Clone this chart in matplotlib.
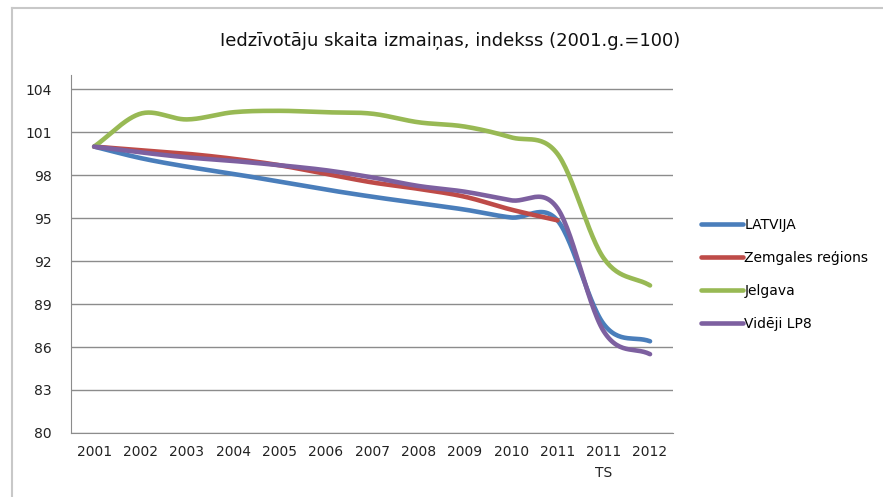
import numpy as np
import matplotlib
matplotlib.use('Agg')
import matplotlib.pyplot as plt
from matplotlib.lines import Line2D

# categories (x axis)
years = ['2001', '2002', '2003', '2004', '2005', '2006', '2007', '2008',
         '2009', '2010', '2011', '2011\nTS', '2012']

# index values, 2001 = 100
latvija = [100, 99.2, 98.6, 98.1, 97.55, 97.0, 96.5, 96.05, 95.6, 95.05, 94.85, 87.6, 86.4]
zemgale = [100, 99.75, 99.5, 99.15, 98.7, 98.1, 97.5, 97.05, 96.5, 95.6, 94.85, np.nan, np.nan]
jelgava = [100, 102.3, 101.9, 102.4, 102.5, 102.4, 102.3, 101.7, 101.4, 100.65, 99.5, 92.2, 90.3]
lp8 = [100, 99.6, 99.25, 99.0, 98.7, 98.35, 97.85, 97.25, 96.85, 96.25, 95.7, 87.1, 85.5]

series = [('LATVIJA', latvija, '#4A7EBB'),
          ('Zemgales reģions', zemgale, '#BE4B48'),
          ('Jelgava', jelgava, '#98B954'),
          ('Vidēji LP8', lp8, '#7D60A0')]


def smooth(x, y, n=30):
    # Catmull-Rom curve through the points (like Excel's smoothed line)
    x = np.asarray(x, float)
    y = np.asarray(y, float)
    ok = ~np.isnan(y)
    x, y = x[ok], y[ok]
    px = np.concatenate([[2 * x[0] - x[1]], x, [2 * x[-1] - x[-2]]])
    py = np.concatenate([[2 * y[0] - y[1]], y, [2 * y[-1] - y[-2]]])
    xs, ys = [], []
    t = np.linspace(0, 1, n)
    for i in range(1, len(px) - 2):
        for p, out in ((px, xs), (py, ys)):
            p0, p1, p2, p3 = p[i - 1], p[i], p[i + 1], p[i + 2]
            c1 = p1 + (p2 - p0) / 6
            c2 = p2 - (p3 - p1) / 6
            out.extend((1 - t) ** 3 * p1 + 3 * (1 - t) ** 2 * t * c1
                       + 3 * (1 - t) * t ** 2 * c2 + t ** 3 * p2)
    return np.array(xs), np.array(ys)


fig = plt.figure(figsize=(8.83, 4.97), dpi=100)
ax = fig.add_axes([0.0804, 0.129, 0.682, 0.72])

x = np.arange(len(years))
for name, vals, col in series:
    sx, sy = smooth(x, vals)
    ax.plot(sx, sy, color=col, lw=3.3, solid_capstyle='round', label=name)

ax.set_xlim(-0.5, len(years) - 0.5)
ax.set_ylim(80, 105)
ax.set_yticks(np.arange(80, 105, 3))
ax.set_xticks(x)
ax.set_xticklabels(years, fontsize=10, color='#222222', linespacing=1.6)
ax.tick_params(axis='y', labelsize=10, colors='#222222', length=0, pad=14)
ax.tick_params(axis='x', length=0, pad=9)
ax.grid(axis='y', color='#8c8c8c', lw=1)
ax.set_axisbelow(True)
for s in ['top', 'right']:
    ax.spines[s].set_visible(False)
for s in ['left', 'bottom']:
    ax.spines[s].set_color('#8c8c8c')

fig.text(0.51, 0.918, 'Iedzīvotāju skaita izmaiņas, indekss (2001.g.=100)',
         ha='center', va='center', fontsize=13, color='#111111')

leg = fig.legend(loc='upper left', bbox_to_anchor=(0.78, 0.586), frameon=False,
                 fontsize=10, handlelength=3.0, handletextpad=0.1,
                 labelspacing=1.35)

# outer chart border (top and left visible)
fig.add_artist(Line2D([12 / 883, 1], [1 - 8 / 497, 1 - 8 / 497],
                      color='#c8c8c8', lw=1.5, transform=fig.transFigure))
fig.add_artist(Line2D([12 / 883, 12 / 883], [0, 1 - 8 / 497],
                      color='#c8c8c8', lw=1.5, transform=fig.transFigure))

fig.savefig('out.png', dpi=100)
